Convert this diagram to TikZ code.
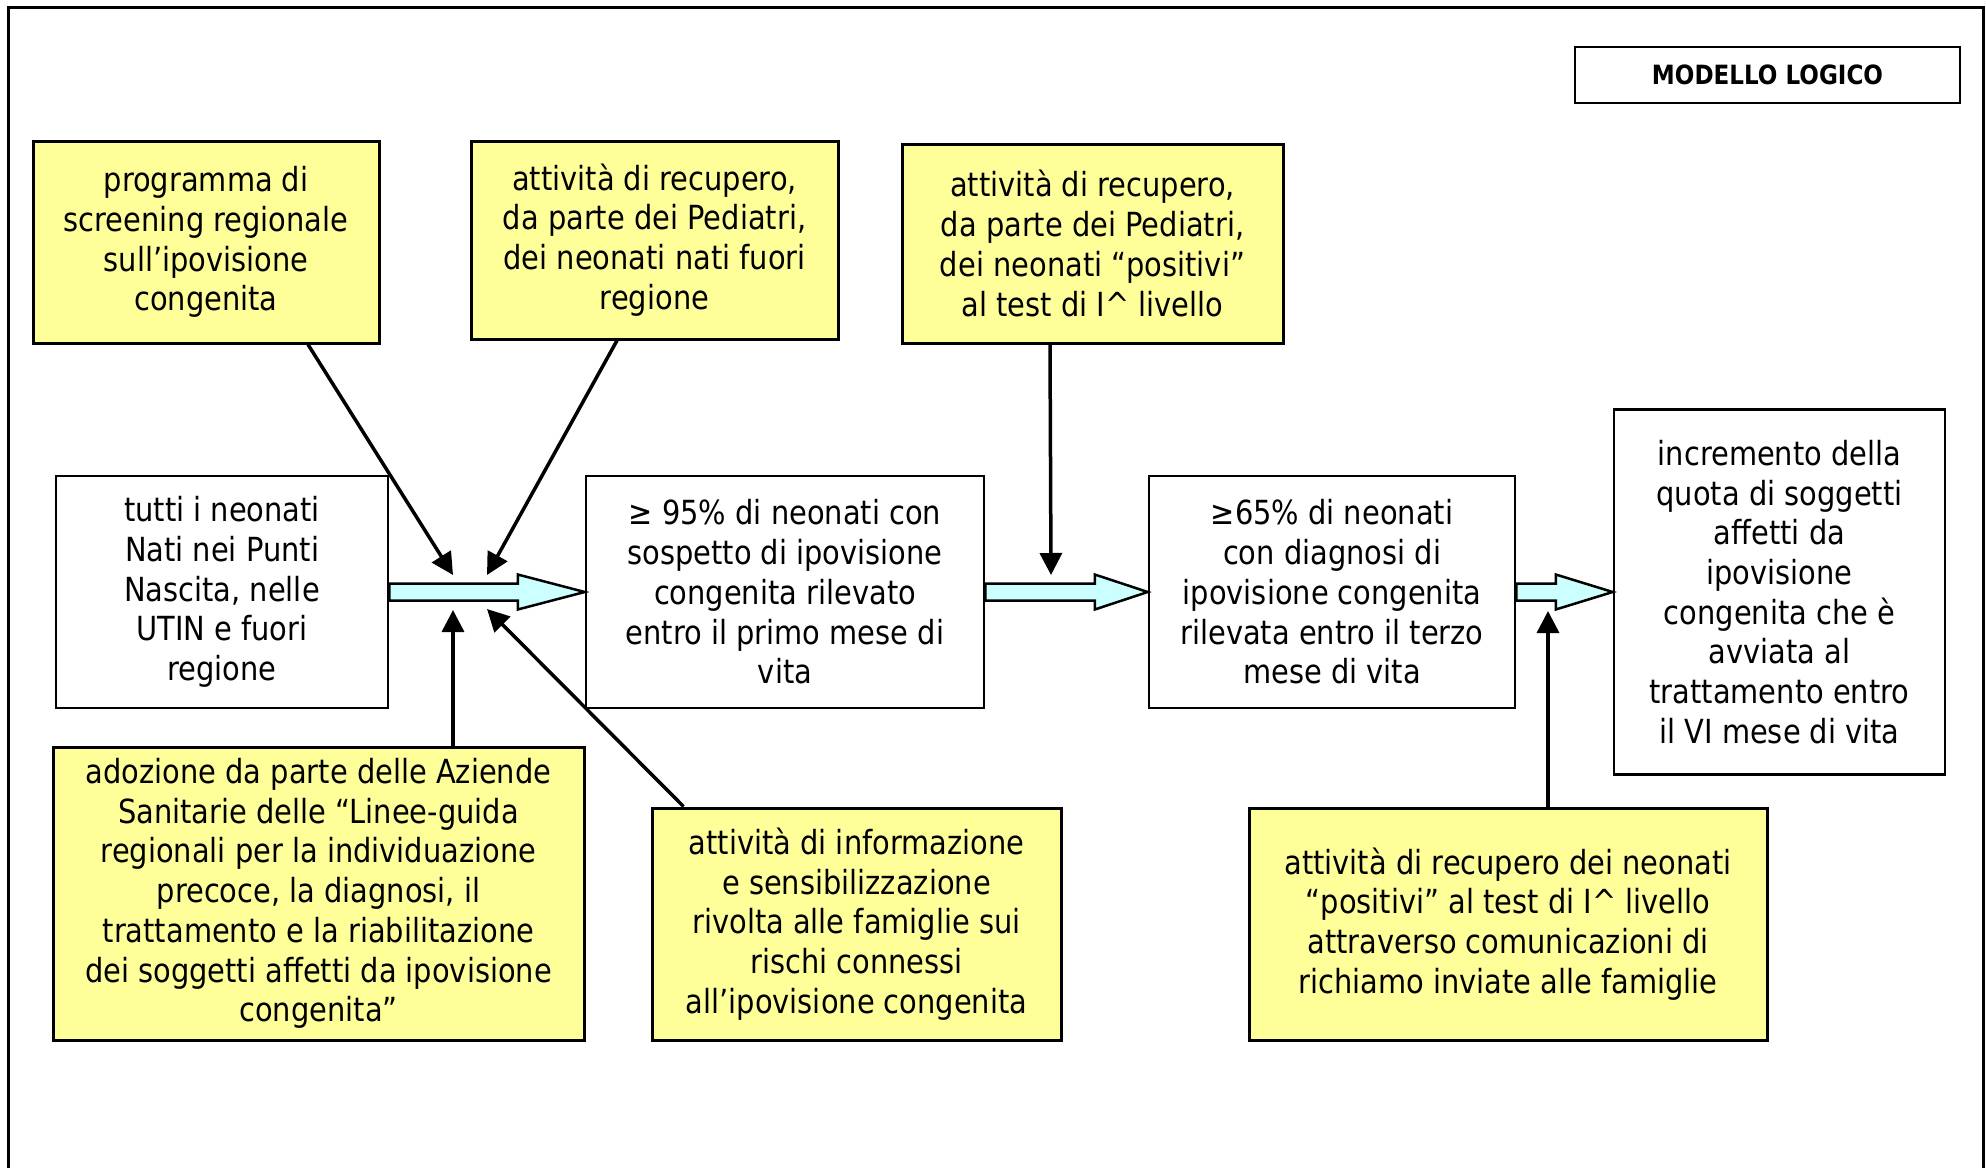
\documentclass[tikz,border=0pt]{standalone}
\usepackage{fontspec}
\setmainfont{DejaVu Sans}[FakeStretch=0.87]
\usetikzlibrary{arrows.meta}
\definecolor{boxyellow}{HTML}{FFFF99}
\definecolor{arrowcyan}{HTML}{CCFFFF}
\newcommand{\blockarr}[3]{%
  \draw[barrow] ([yshift=8.5pt]#1.east) -- ([xshift=-#3pt,yshift=8.5pt]#2.west)
    -- ([xshift=-#3pt,yshift=17.5pt]#2.west) -- (#2.west)
    -- ([xshift=-#3pt,yshift=-17.5pt]#2.west) -- ([xshift=-#3pt,yshift=-8.5pt]#2.west)
    -- ([yshift=-8.5pt]#1.east) -- cycle;}
\begin{document}
\begin{tikzpicture}[x=1pt,y=-1pt,
  box/.style={draw=black, line width=2.5pt, align=center, inner sep=0pt,
    font=\fontsize{33.2pt}{39.7pt}\selectfont},
  ybox/.style={box, fill=boxyellow, line width=3pt},
  wbox/.style={box, fill=white},
  titlebox/.style={draw=black, line width=2pt, inner sep=0pt, fill=white,
    font=\bfseries\fontsize{26.5pt}{31pt}\selectfont},
  thinarrow/.style={line width=3.5pt, -{Triangle[length=22pt,width=22pt]}},
  barrow/.style={draw=black, line width=2.5pt, fill=arrowcyan, line join=miter}]
\useasboundingbox (0,0) rectangle (1986,1167);
\fill[white] (0,0) rectangle (1986,1167);
% outer frame
\draw[line width=3pt] (8,1170) -- (8,7.5) -- (1983,7.5) -- (1983,1170);

\node[titlebox, minimum width=385pt, minimum height=56pt] (M) at (1767.5,75) {MODELLO LOGICO};

\node[ybox, minimum width=346pt, minimum height=202pt] (A) at (206,242)
  {programma di\\screening regionale\\sull’ipovisione\\congenita};
\node[ybox, minimum width=367pt, minimum height=198pt] (B) at (654.5,240)
  {attività di recupero,\\da parte dei Pediatri,\\dei neonati nati fuori\\regione};
\node[ybox, minimum width=381pt, minimum height=199pt] (C) at (1092.5,243.5)
  {attività di recupero,\\da parte dei Pediatri,\\dei neonati “positivi”\\al test di I\textasciicircum{} livello};

\node[wbox, minimum width=332pt, minimum height=232pt] (D) at (222,592)
  {tutti i neonati\\Nati nei Punti\\Nascita, nelle\\UTIN e fuori\\regione};
\node[wbox, minimum width=398pt, minimum height=232pt] (E) at (785,592)
  {≥ 95\% di neonati con\\sospetto di ipovisione\\congenita rilevato\\entro il primo mese di\\vita};
\node[wbox, minimum width=366pt, minimum height=232pt] (F) at (1332,592)
  {≥65\% di neonati\\con diagnosi di\\ipovisione congenita\\rilevata entro il terzo\\mese di vita};
\node[wbox, minimum width=331pt, minimum height=365pt] (G) at (1779.5,592)
  {incremento della\\quota di soggetti\\affetti da\\ipovisione\\congenita che è\\avviata al\\trattamento entro\\il VI mese di vita};

\node[ybox, minimum width=531pt, minimum height=293pt] (H) at (318.5,893.5)
  {adozione da parte delle Aziende\\Sanitarie delle “Linee-guida\\regionali per la individuazione\\precoce, la diagnosi, il\\trattamento e la riabilitazione\\dei soggetti affetti da ipovisione\\congenita”};
\node[ybox, minimum width=409pt, minimum height=232pt] (I) at (856.5,924)
  {attività di informazione\\e sensibilizzazione\\rivolta alle famiglie sui\\rischi connessi\\all’ipovisione congenita};
\node[ybox, minimum width=518pt, minimum height=232pt] (J) at (1508,924)
  {attività di recupero dei neonati\\“positivi” al test di I\textasciicircum{} livello\\attraverso comunicazioni di\\richiamo inviate alle famiglie};

% block arrows
\blockarr{D}{E}{67}
\blockarr{E}{F}{53}
\blockarr{F}{G}{57}

% thin arrows
\coordinate (tA) at (453,575);
\coordinate (tB) at (487,575);
\coordinate (tC) at (1051,575);
\coordinate (tH) at (453,610);
\coordinate (tI) at (487,609);
\coordinate (tJ) at (1548,611);
\draw[thinarrow] ([xshift=102pt]A.south) -- (tA);
\draw[thinarrow] ([xshift=-37.5pt]B.south) -- (tB);
\draw[thinarrow] ([xshift=-42.5pt]C.south) -- (tC);
\draw[thinarrow] ([xshift=134.5pt]H.north) -- (tH);
\draw[thinarrow] ([xshift=33pt]I.north west) -- (tI);
\draw[thinarrow] ([xshift=40pt]J.north) -- (tJ);
\end{tikzpicture}
\end{document}
